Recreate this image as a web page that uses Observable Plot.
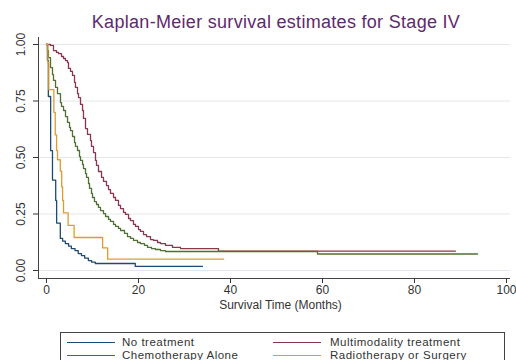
<!DOCTYPE html>
<html><head><meta charset="utf-8">
<script src="https://cdn.jsdelivr.net/npm/d3@7"></script>
<script src="https://cdn.jsdelivr.net/npm/@observablehq/plot@0.6"></script>
<style>
html,body{margin:0;padding:0;background:#fff;overflow:hidden;}
#wrap{position:relative;width:516px;height:360px;font-family:"Liberation Sans",Arial,sans-serif;overflow:hidden;}
#title{position:absolute;left:38px;width:476px;top:13px;text-align:center;font-size:18px;letter-spacing:0.3px;color:#5e2a6e;line-height:18px;white-space:nowrap;}
#chart{position:absolute;left:0;top:32px;}
#legend{position:absolute;left:60px;top:332px;width:445px;height:36px;border:1px solid #444;box-sizing:border-box;background:#fff;}
.item{position:absolute;font-size:11.5px;letter-spacing:0.5px;color:#333;line-height:12px;white-space:nowrap;}
.sw{position:absolute;width:48px;height:0;border-top:1.5px solid;}
</style></head><body>
<div id="wrap">
  <div id="title">Kaplan-Meier survival estimates for Stage IV</div>
  <div id="chart"></div>
  <div id="legend"></div>
</div>
<script>
// Series names and colours
const names = ["No treatment", "Multimodality treatment", "Chemotherapy Alone", "Radiotherapy or Surgery"];
const colors = ["#1f4a73", "#8a3552", "#4f6f33", "#de9c30"];

// Survival times (months) and survival estimates
const noTreatT = [0, 0.2, 0.4, 0.9, 1.3, 2.0, 2.2, 3.0, 3.5, 4.1, 4.8, 5.4, 6.2, 6.9, 7.6, 8.3, 9.1, 9.8, 10.6, 19.3, 33.9];
const noTreatS = [1, 0.93, 0.77, 0.53, 0.40, 0.31, 0.21, 0.142, 0.13, 0.119, 0.108, 0.097, 0.088, 0.075, 0.066, 0.055, 0.044, 0.037, 0.031, 0.018, 0.018];

const multiT = [0, 0.87, 1.52, 2.17, 2.61, 3.26, 3.70, 4.13, 4.57, 4.78, 5.22, 5.65, 6.09, 6.30, 6.74, 6.96, 7.39, 7.83, 8.04, 8.48, 8.91, 9.57, 9.78, 10.22, 10.65, 10.87, 11.30, 11.96, 12.39, 13.04, 13.48, 13.91, 14.57, 15.0, 15.65, 16.09, 16.74, 17.17, 17.83, 18.26, 18.91, 19.35, 20.0, 20.43, 21.09, 21.74, 22.61, 23.26, 24.13, 24.78, 25.87, 27.39, 29.13, 37.39, 88.91];
const multiS = [1, 0.996, 0.973, 0.965, 0.960, 0.947, 0.938, 0.929, 0.920, 0.894, 0.881, 0.863, 0.832, 0.810, 0.783, 0.765, 0.735, 0.708, 0.673, 0.628, 0.602, 0.575, 0.549, 0.522, 0.487, 0.465, 0.438, 0.412, 0.394, 0.376, 0.358, 0.341, 0.323, 0.310, 0.288, 0.274, 0.257, 0.248, 0.230, 0.221, 0.204, 0.195, 0.181, 0.173, 0.159, 0.150, 0.137, 0.133, 0.124, 0.119, 0.111, 0.102, 0.097, 0.086, 0.086];

const chemoT = [0, 0.22, 0.43, 0.87, 1.30, 1.52, 1.96, 2.39, 3.04, 3.26, 3.70, 4.13, 4.57, 5.0, 5.22, 5.65, 6.09, 6.30, 6.74, 7.17, 7.39, 7.83, 8.04, 8.48, 8.70, 9.13, 9.35, 9.78, 10.0, 10.43, 10.87, 11.30, 11.74, 12.39, 12.83, 13.48, 13.91, 14.57, 15.0, 15.65, 16.09, 16.96, 17.61, 18.26, 18.91, 19.78, 20.43, 21.30, 21.96, 22.83, 23.70, 24.78, 25.87, 58.91, 93.70];
const chemoS = [1, 0.973, 0.942, 0.898, 0.867, 0.841, 0.810, 0.783, 0.743, 0.726, 0.708, 0.681, 0.655, 0.633, 0.619, 0.593, 0.566, 0.549, 0.531, 0.504, 0.487, 0.469, 0.451, 0.429, 0.412, 0.385, 0.363, 0.341, 0.323, 0.305, 0.292, 0.279, 0.265, 0.252, 0.239, 0.226, 0.217, 0.204, 0.195, 0.186, 0.177, 0.164, 0.150, 0.142, 0.133, 0.124, 0.119, 0.111, 0.102, 0.097, 0.093, 0.088, 0.084, 0.073, 0.073];

const radioT = [0, 0.3, 0.5, 1.6, 1.9, 2.2, 2.4, 3.0, 3.3, 3.5, 3.7, 4.7, 6.0, 12.2, 13.3, 38.5];
const radioS = [1, 0.92, 0.80, 0.70, 0.60, 0.53, 0.49, 0.44, 0.37, 0.31, 0.255, 0.20, 0.146, 0.10, 0.05, 0.05];

const xTicks = [0, 20, 40, 60, 80, 100];
const yTicks = [0, 0.25, 0.5, 0.75, 1];
const xTitle = "Survival Time (Months)";

const seriesT = [noTreatT, multiT, chemoT, radioT];
const seriesS = [noTreatS, multiS, chemoS, radioS];
const rows = names.flatMap((n, k) => seriesT[k].map((t, i) => ({group: n, t, s: seriesS[k][i]})));

const xDomain = [-1.74, 100.87];
const yDomain = [-0.0354, 1.031];

const chart = Plot.plot({
  width: 516, height: 284,
  marginLeft: 38, marginRight: 6, marginTop: 5, marginBottom: 38,
  x: {domain: xDomain},
  y: {domain: yDomain},
  color: {domain: names, range: colors},
  style: {fontFamily: "'Liberation Sans', Arial, sans-serif", fontSize: "12px", color: "#333", background: "transparent"},
  marks: [
    Plot.ruleY(yTicks, {stroke: "#e3e7eb", strokeWidth: 1}),
    Plot.line(rows, {x: "t", y: "s", z: "group", stroke: "group", curve: "step-after", strokeWidth: 1.3}),
    Plot.ruleX([xDomain[0]], {stroke: "#444"}),
    Plot.ruleY([yDomain[0]], {stroke: "#444"}),
    Plot.axisX({ticks: xTicks, tickSize: 5, tickPadding: 2, tickFormat: d => String(d), label: null}),
    Plot.axisY({ticks: yTicks, tickSize: 5, tickFormat: () => "", label: null}),
    Plot.text(yTicks, {y: d => d, frameAnchor: "left", dx: -17, rotate: -90, text: d => d.toFixed(2), textAnchor: "middle", lineAnchor: "middle", fill: "#333"}),
    Plot.text([xTitle], {frameAnchor: "bottom", dy: 30, dx: 6, text: d => d, fill: "#333"})
  ]
});
document.getElementById("chart").appendChild(chart);

// Legend
const legend = document.getElementById("legend");
const pos = [[6, 9, 61], [212, 9, 269], [6, 22, 61], [212, 22, 269]];
names.forEach((n, k) => {
  const [sx, y, tx] = pos[k];
  const sw = document.createElement("div");
  sw.className = "sw"; sw.style.left = sx + "px"; sw.style.top = y + "px"; sw.style.borderTopColor = colors[k];
  legend.appendChild(sw);
  const it = document.createElement("div");
  it.className = "item"; it.style.left = tx + "px"; it.style.top = (y - 6) + "px"; it.textContent = n;
  legend.appendChild(it);
});
</script>
</body></html>
